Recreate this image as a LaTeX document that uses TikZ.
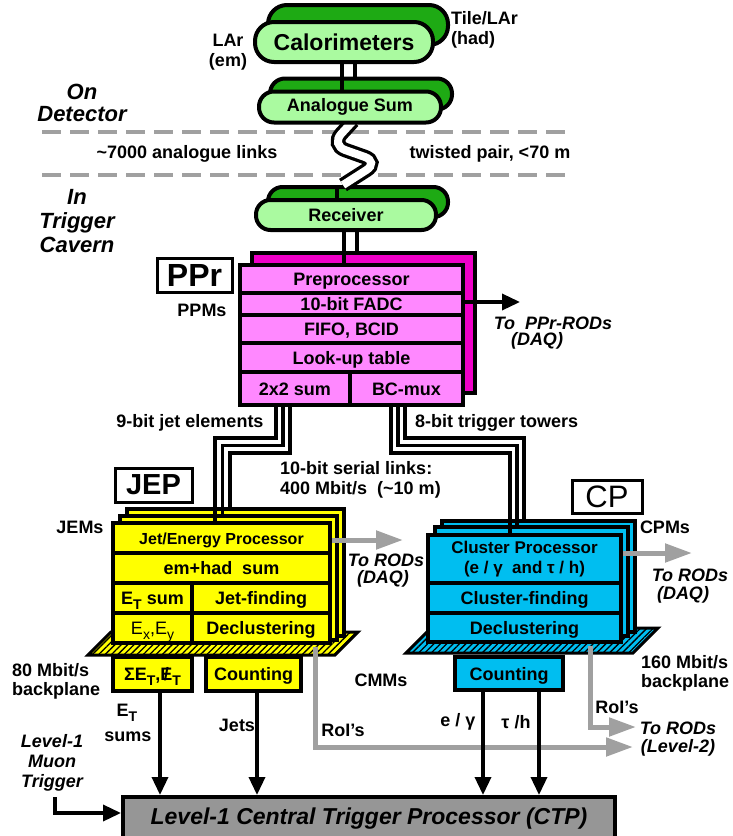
\documentclass[tikz,border=0pt]{standalone}
\usepackage{fontspec}
\setmainfont{Liberation Sans}
\usetikzlibrary{arrows.meta,patterns.meta,calc}
\pgfdeclarelayer{back}
\pgfdeclarelayer{wires}
\pgfsetlayers{back,wires,main}
\definecolor{lgreen}{RGB}{170,250,160}
\definecolor{dgreen}{RGB}{30,170,20}
\definecolor{ppfront}{RGB}{255,136,255}
\definecolor{ppback}{RGB}{240,0,200}
\definecolor{jyel}{RGB}{255,255,0}
\definecolor{cpcyan}{RGB}{0,190,240}
\definecolor{lgray}{RGB}{160,160,160}
\definecolor{ctpgray}{RGB}{150,150,150}
\newcommand\fsz[2]{\fontsize{#1}{#2}\selectfont}
\newcommand\subT[1]{\raisebox{-0.25em}{\fsz{14}{14}#1}}
\newcommand\slashE{\ooalign{E\cr\hidewidth/\hidewidth}}
\tikzset{
 pillF/.style={draw, line width=4, fill=lgreen, inner sep=0, font=\bfseries\fsz{18}{21}},
 pillB/.style={draw, line width=4, fill=dgreen, inner sep=0},
 cellbox/.style={draw, line width=3.5, inner sep=0, font=\bfseries\fsz{18}{21}},
 capc/.style={text height=13pt, text depth=0pt},
 boxframe/.style={draw, line width=4, inner sep=0},
 tagbox/.style={draw, line width=3, fill=white, inner sep=0},
 lbl/.style={inner sep=0, font=\bfseries\fsz{18}{21}},
 ilbl/.style={inner sep=0, font=\bfseries\itshape\fsz{18}{20}},
 wireline/.style={line width=3.3, line cap=butt},
 blkarrow/.style={line width=3.5, -{Triangle[length=18pt,width=16pt]}},
 grayarrow/.style={lgray, line width=5, -{Triangle[length=27pt,width=18pt]}},
 sepline/.style={lgray, line width=3.5, dash pattern=on 19pt off 9pt},
 hatchY/.style={draw, line width=3, pattern={Lines[angle=45,distance=4.5pt,line width=1.3pt]}, preaction={fill=jyel}},
 hatchC/.style={draw, line width=3, pattern={Lines[angle=45,distance=4.5pt,line width=1.3pt]}, preaction={fill=cpcyan}},
}
\begin{document}
\begin{tikzpicture}[x=1pt,y=-1pt]
\useasboundingbox (0,0) rectangle (732,836);

% ---------------- back layer
\begin{pgfonlayer}{back}
 \node[pillB, minimum width=180, minimum height=40, rounded corners=19] (calB) at (358,25) {};
 \node[pillB, minimum width=182, minimum height=31, rounded corners=15] (anB) at (361,94) {};
 \node[pillB, minimum width=180, minimum height=30, rounded corners=14.5] (rcB) at (358,202) {};
 \coordinate (d1L) at (42,132); \coordinate (d1R) at (570,132);
 \coordinate (d2L) at (42,175); \coordinate (d2R) at (570,175);
 \draw[sepline] (d1L) -- (d1R);
 \draw[sepline] (d2L) -- (d2R);
 \node[cellbox, fill=ppback, minimum width=223, minimum height=140] (ppB) at (363.5,323) {};
 \path[hatchY] (88,655) -- (335,655) -- (358,632) -- (111,632) -- cycle;
 \node[cellbox, fill=jyel, minimum width=217, minimum height=127] (jepB) at (235.5,572.5) {};
 \node[cellbox, fill=jyel, minimum width=217, minimum height=124] (jepM) at (228.5,578) {};
 \path[hatchC] (406,653) -- (633,653) -- (658,628) -- (431,628) -- cycle;
 \node[cellbox, fill=cpcyan, minimum width=193, minimum height=111] (cpB) at (538.5,576.5) {};
 \node[cellbox, fill=cpcyan, minimum width=193, minimum height=109] (cpM) at (531.5,581.5) {};
\end{pgfonlayer}

% ---------------- top pills
\node[pillF, minimum width=178, minimum height=40, rounded corners=19, font=\bfseries\fsz{23}{26}] (calF) at (344,42) {Calorimeters};
\node[pillF, minimum width=182, minimum height=31, rounded corners=15] (anF) at (350,107) {Analogue Sum};
\node[pillF, minimum width=180, minimum height=30, rounded corners=14.5] (rcF) at (346,215) {Receiver};

\node[lbl, align=center, font=\bfseries\fsz{18}{20}] (lar) at (228,52) {LAr\\(em)};
\node[lbl, align=left, anchor=west, font=\bfseries\fsz{18}{20}] (tile) at (451,30) {Tile/LAr\\(had)};
\node[ilbl, align=center, font=\bfseries\itshape\fsz{22}{22}] (ondet) at (82,103) {On\\Detector};
\node[ilbl, align=center, font=\bfseries\itshape\fsz{22}{24}] (incav) at (77,221) {In\\Trigger\\Cavern};
\node[lbl] (links) at (187,154) {\textasciitilde7000 analogue links};
\node[lbl] (twp) at (490,154) {twisted pair, <70 m};

% ---------------- PPr
\node[tagbox, minimum width=75, minimum height=34, font=\bfseries\fsz{32}{32}] (pprTag) at (194.5,275) {PPr};
\node[lbl] (ppms) at (202,310) {PPMs};
\node[cellbox, capc, fill=ppfront, minimum width=223, minimum height=28] (pp1) at (351.5,279) {Preprocessor};
\node[cellbox, capc, fill=ppfront, minimum width=223, minimum height=22] (pp2) at (351.5,304) {10-bit FADC};
\node[cellbox, capc, fill=ppfront, minimum width=223, minimum height=28] (pp3) at (351.5,329) {FIFO, BCID};
\node[cellbox, capc, fill=ppfront, minimum width=223, minimum height=29] (pp4) at (351.5,357.5) {Look-up table};
\node[cellbox, capc, fill=ppfront, minimum width=110, minimum height=33] (pp5a) at (295,388.5) {2x2 sum};
\node[cellbox, capc, fill=ppfront, minimum width=113, minimum height=33] (pp5b) at (406.5,388.5) {BC-mux};
\node[boxframe, minimum width=223, minimum height=140] (ppF) at (351.5,335) {};
\coordinate (ppOut) at (520,302);
\draw[blkarrow] (ppOut -| ppF.east) -- (ppOut);
\node[ilbl] (ppDaq1) at (553,323) {To\ \ PPr-RODs};
\node[ilbl] (ppDaq2) at (537,341) {(DAQ)};

\node[lbl] (jetel) at (190,423) {9-bit jet elements};
\node[lbl, anchor=west] (trtow) at (415,423) {8-bit trigger towers};
\node[lbl, align=left, anchor=west, font=\bfseries\fsz{18}{20}] (serial) at (280,480) {10-bit serial links:\\400 Mbit/s\ \ (\textasciitilde10 m)};

% ---------------- JEP
\node[tagbox, minimum width=77, minimum height=34, font=\bfseries\fsz{29}{29}] (jepTag) at (153.5,485) {JEP};
\node[lbl] (jems) at (80,527) {JEMs};
\node[cellbox, capc, fill=jyel, minimum width=217, minimum height=30, font=\bfseries\fsz{16}{18}] (jr1) at (221.5,538) {Jet/Energy Processor};
\node[cellbox, capc, fill=jyel, minimum width=217, minimum height=30] (jr2) at (221.5,568) {em+had\ \ sum};
\node[cellbox, capc, fill=jyel, minimum width=79, minimum height=30] (jr3a) at (152.5,598) {E\subT{T} sum};
\node[cellbox, capc, fill=jyel, minimum width=138, minimum height=30] (jr3b) at (261,598) {Jet-finding};
\node[cellbox, capc, fill=jyel, minimum width=79, minimum height=30, font=\fsz{18}{21}] (jr4a) at (152.5,628) {E\subT{x},E\subT{y}};
\node[cellbox, capc, fill=jyel, minimum width=138, minimum height=30] (jr4b) at (261,628) {Declustering};
\node[boxframe, minimum width=217, minimum height=120] (jepF) at (221.5,583) {};
\node[cellbox, capc, fill=jyel, minimum width=79, minimum height=34] (sumBox) at (152.5,674) {ΣE\subT{T},\slashE\subT{T}};
\node[cellbox, capc, fill=jyel, minimum width=95, minimum height=34] (jCnt) at (253.5,674) {Counting};
\coordinate (jDaq) at (403,540);
\draw[grayarrow] (jDaq -| jepF.east) -- (jDaq);
\node[ilbl] (jDaq1) at (386,560) {To RODs};
\node[ilbl] (jDaq2) at (383,579) {(DAQ)};

% ---------------- CP
\node[tagbox, minimum width=70, minimum height=33, font=\fsz{31}{31}] (cpTag) at (607,496.5) {CP};
\node[lbl] (cpms) at (665,527) {CPMs};
\node[cellbox, fill=cpcyan, minimum width=193, minimum height=48, align=center, font=\bfseries\fsz{17}{20}] (cr1) at (524.5,559) {Cluster Processor\\(e / γ\ \ and τ / h)};
\node[cellbox, capc, fill=cpcyan, minimum width=193, minimum height=30] (cr2) at (524.5,598) {Cluster-finding};
\node[cellbox, capc, fill=cpcyan, minimum width=193, minimum height=29] (cr3) at (524.5,627.5) {Declustering};
\node[boxframe, minimum width=193, minimum height=107] (cpF) at (524.5,588.5) {};
\node[cellbox, capc, fill=cpcyan, minimum width=108, minimum height=33] (cCnt) at (509,673.5) {Counting};
\coordinate (cDaq) at (692,553);
\draw[grayarrow] (cDaq -| cpF.east) -- (cDaq);
\node[ilbl] (cDaq1) at (690,575) {To RODs};
\node[ilbl] (cDaq2) at (683,595) {(DAQ)};

% ---------------- bottom labels
\node[lbl, align=left, anchor=west, font=\bfseries\fsz{18}{19}] (bp80) at (12,681) {80 Mbit/s\\backplane};
\node[lbl, align=left, anchor=west, font=\bfseries\fsz{18}{19}] (bp160) at (641,673) {160 Mbit/s\\backplane};
\node[lbl] (cmms) at (381,680) {CMMs};
\node[lbl] (etl) at (127,713) {E\subT{T}};
\node[lbl] (sums) at (128,737) {sums};
\node[lbl] (jets) at (237,725) {Jets};
\node[lbl] (roiA) at (343,730) {RoI's};
\node[lbl] (egam) at (458,722) {e / γ};
\node[lbl] (tauh) at (516,722) {τ /h};
\node[lbl] (roiB) at (617,707) {RoI's};
\node[ilbl] (l2a) at (678,728) {To RODs};
\node[ilbl] (l2b) at (678,748) {(Level-2)};
\node[ilbl, align=center, font=\bfseries\itshape\fsz{18}{20}] (muon) at (52,763) {Level-1\\Muon\\Trigger};

\node[draw, line width=4, fill=ctpgray, minimum width=492, minimum height=44, inner sep=0, font=\bfseries\itshape\fsz{23}{23}] (ctp) at (369,819) {Level-1 Central Trigger Processor (CTP)};

% gray RoI paths
\coordinate (jroiX) at (315,0); \coordinate (roi1) at (633,747);
\draw[grayarrow, shorten <=2] (jepF.south -| jroiX) |- (roi1);
\coordinate (croiX) at (590,0); \coordinate (roi2) at (636,727);
\draw[grayarrow, shorten <=2] (cpF.south -| croiX) |- (roi2);

% black arrows to CTP
\coordinate (a1) at (160,0); \coordinate (a2) at (257,0);
\coordinate (a3) at (483,0); \coordinate (a4) at (539,0);
\draw[blkarrow] (sumBox.south -| a1) -- (ctp.north -| a1);
\draw[blkarrow] (jCnt.south -| a2) -- (ctp.north -| a2);
\draw[blkarrow] (cCnt.south -| a3) -- (ctp.north -| a3);
\draw[blkarrow] (cCnt.south -| a4) -- (ctp.north -| a4);
\coordinate (muS) at (55,797); \coordinate (muY) at (0,813);
\draw[blkarrow] (muS) |- (ctp.west |- muY);

% ---------------- wires
\begin{pgfonlayer}{wires}
 \coordinate (cA) at (342,0); \coordinate (cB) at (355,0);
 \draw[wireline] (calF.south -| cA) -- (anF.north -| cA);
 \draw[wireline] (calF.south -| cB) -- (anB.north -| cB);
 \coordinate (tpS) at (353,121); \coordinate (tpE) at (343,185);
 \draw[wireline, double=white, double distance=8, rounded corners=15] (tpS) -- (331,145) -- (379,162) -- (tpE);
 \coordinate (cC) at (337,0);
 \draw[wireline] (rcB.north -| cC) -- (rcF.north -| cC);
 \coordinate (rA) at (344,0); \coordinate (rB) at (357,0);
 \draw[wireline] (rcF.south -| rA) -- (ppF.north -| rA);
 \draw[wireline] (rcF.south -| rB) -- (ppB.north -| rB);
 \coordinate (jx1) at (276,438); \coordinate (jx2) at (283,445.5); \coordinate (jx3) at (290,453);
 \coordinate (jl1) at (215,0); \coordinate (jl2) at (222.5,0); \coordinate (jl3) at (230,0);
 \draw[wireline] (ppF.south -| jx1) |- (jl1 |- jx1) -- (jepF.north -| jl1);
 \draw[wireline] (ppF.south -| jx2) |- (jl2 |- jx2) -- (jepM.north -| jl2);
 \draw[wireline] (ppF.south -| jx3) |- (jl3 |- jx3) -- (jepB.north -| jl3);
 \coordinate (cx1) at (391,453); \coordinate (cx2) at (398,445.5); \coordinate (cx3) at (405,438);
 \coordinate (cl1) at (510,0); \coordinate (cl2) at (517,0); \coordinate (cl3) at (524,0);
 \draw[wireline] (ppF.south -| cx1) |- (cl1 |- cx1) -- (cpF.north -| cl1);
 \draw[wireline] (ppF.south -| cx2) |- (cl2 |- cx2) -- (cpM.north -| cl2);
 \draw[wireline] (ppF.south -| cx3) |- (cl3 |- cx3) -- (cpB.north -| cl3);
\end{pgfonlayer}
\end{tikzpicture}
\end{document}
